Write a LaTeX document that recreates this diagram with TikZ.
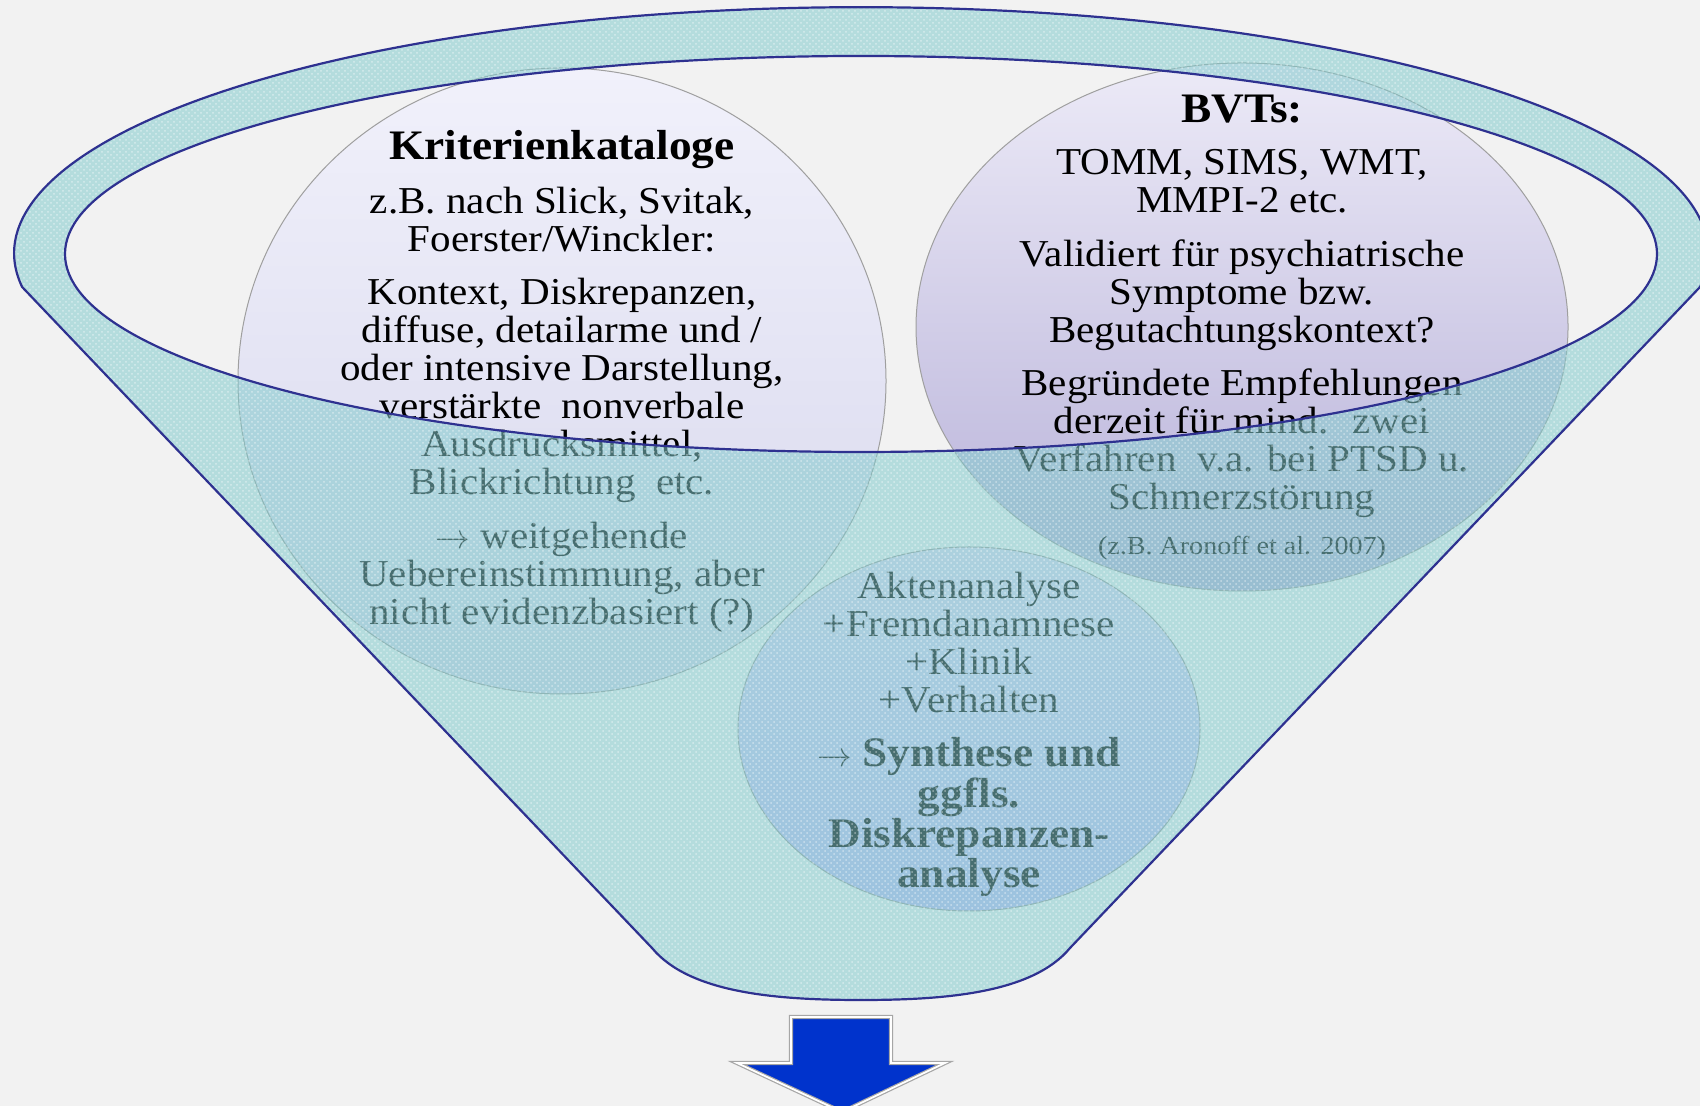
\documentclass[tikz,border=0pt]{standalone}
\usepackage{fontspec}
\setmainfont{Liberation Serif}[FakeStretch=1.08]
\usetikzlibrary{patterns}
\definecolor{bgcol}{HTML}{F2F2F2}
\definecolor{rimfill}{RGB}{130,202,204}
\definecolor{rimline}{HTML}{2E3190}
\definecolor{arrowblue}{HTML}{0033CC}
\definecolor{lavtop}{RGB}{241,241,251}
\definecolor{lavbot}{RGB}{214,214,236}
\definecolor{purtop}{RGB}{236,234,247}
\definecolor{purbot}{RGB}{182,176,216}
\definecolor{blutop}{RGB}{225,218,246}
\definecolor{blubot}{RGB}{190,186,248}
\begin{document}
\begin{tikzpicture}[x=0.5pt,y=0.5pt,
  bubble/.style={draw=gray!75, line width=0.5pt},
  txt/.style={align=center, inner sep=0pt, anchor=north, font=\fontsize{19}{19}\selectfont},
]
\fill[bgcol] (0,0) rectangle (1700,1106);
\useasboundingbox (0,0) rectangle (1700,1106);

% bubbles
\shade[bubble, top color=lavtop, bottom color=lavbot] (562,725) ellipse [x radius=324, y radius=313];
\shade[bubble, top color=purtop, bottom color=purbot] (1242,779) ellipse [x radius=326, y radius=264];
\shade[bubble, top color=blutop, bottom color=blubot] (969,377) ellipse [x radius=231, y radius=182];

% texts
\node[txt] (kriterien) at (562,976) {%
{\bfseries\fontsize{21}{19}\selectfont Kriterienkataloge}\\[8pt]
z.B. nach Slick, Svitak,\\
Foerster/Winckler:\\[7.5pt]
Kontext, Diskrepanzen,\\
diffuse, detailarme und /\\
oder intensive Darstellung,\\
verstärkte~ nonverbale\\
Ausdrucksmittel,\\
Blickrichtung~ etc.\\[8pt]
$\rightarrow$ weitgehende\\
Uebereinstimmung, aber\\
nicht evidenzbasiert (?)};

\node[txt] (bvts) at (1242,1011) {%
{\bfseries\fontsize{21}{19}\selectfont BVTs:}\\[7pt]
TOMM, SIMS, WMT,\\
MMPI-2 etc.\\[8pt]
Validiert für psychiatrische\\
Symptome bzw.\\
Begutachtungskontext?\\[7.5pt]
Begründete Empfehlungen\\
derzeit für mind.~ zwei\\
Verfahren~ v.a. bei PTSD u.\\
Schmerzstörung\\[3.5pt]
{\fontsize{13}{15}\selectfont (z.B. Aronoff et al. 2007)}};

\node[txt] (synthese) at (969,534) {%
Aktenanalyse\\
+Fremdanamnese\\
+Klinik\\
+Verhalten\\[8pt]
$\rightarrow$ {\bfseries\fontsize{21}{19}\selectfont Synthese und}\\
{\bfseries\fontsize{21}{19}\selectfont ggfls.}\\
{\bfseries\fontsize{21}{19}\selectfont Diskrepanzen-}\\
{\bfseries\fontsize{21}{19}\selectfont analyse}};

% funnel body
\def\funnelpath{(1700,819) arc[start angle=-7.9, end angle=187.9, x radius=847, y radius=246]
  -- (652,158) .. controls (690,112) and (780,106) .. (861,106)
  .. controls (942,106) and (1032,112) .. (1070,158) -- cycle
  (861,852) ellipse [x radius=796, y radius=198]}
\path[even odd rule, fill=rimfill, fill opacity=0.55] \funnelpath;
\path[even odd rule, pattern=crosshatch dots, pattern color=white, opacity=0.45] \funnelpath;
\path[draw=rimline, line width=1.1pt, line join=round] \funnelpath;

% arrow
\path[fill=arrowblue, draw=gray!70, double=white, double distance=0.9pt, line width=0.6pt]
  (791,89) -- (891,89) -- (891,43) -- (945,43) -- (842,-6) -- (737,43) -- (791,43) -- cycle;
\end{tikzpicture}
\end{document}
